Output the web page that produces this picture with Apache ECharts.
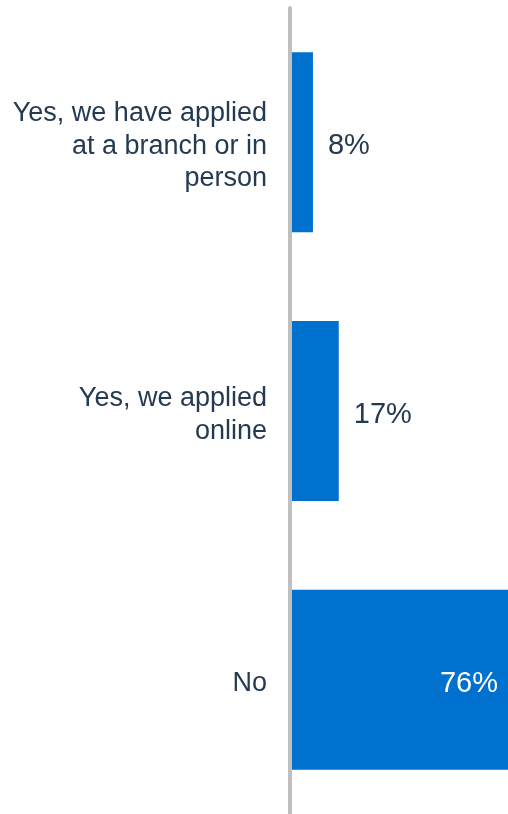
<!DOCTYPE html>
<html><head><meta charset="utf-8">
<script src="https://cdn.jsdelivr.net/npm/echarts@6/dist/echarts.min.js"></script>
<style>html,body{margin:0;padding:0;background:#fff}#c{width:508px;height:814px}</style>
</head><body><div id="c"></div>
<script>
const categories = ['Yes, we have applied\nat a branch or in\nperson', 'Yes, we applied\nonline', 'No'];
const values = [8, 17, 76];
const labelColor = '#243A52';
const FONT = "'Liberation Sans', Arial, sans-serif";
const chart = echarts.init(document.getElementById('c'));
chart.setOption({
  animation: false,
  grid: {left: 290, right: 0, top: 8, bottom: 0, containLabel: false},
  xAxis: {type: 'value', min: 0, max: 'dataMax', show: false},
  yAxis: {
    type: 'category', data: categories, inverse: true, z: 10,
    axisLine: {show: true, lineStyle: {color: '#C0C0C0', width: 4}},
    axisTick: {show: false},
    axisLabel: {
      margin: 23, align: 'right',
      formatter: v => '{s|}\n' + v.split('\n').map(l => '{a|' + l + '}').join('\n'),
      rich: {
        s: {height: 8, lineHeight: 8, fontSize: 1},
        a: {fontFamily: FONT, fontSize: 27, color: labelColor, lineHeight: 32.5, align: 'right'}
      }
    }
  },
  series: [{
    type: 'bar', barCategoryGap: '33%',
    data: values.map((v, i) => ({
      value: v,
      label: i === 2 ? {position: 'insideRight', distance: 10, color: '#fff'} : {position: 'right', distance: 15, color: labelColor}
    })),
    itemStyle: {color: '#0071CE'},
    label: {show: true, formatter: '{c}%', fontFamily: FONT, fontSize: 29, offset: [0, 4]}
  }]
});
</script></body></html>
